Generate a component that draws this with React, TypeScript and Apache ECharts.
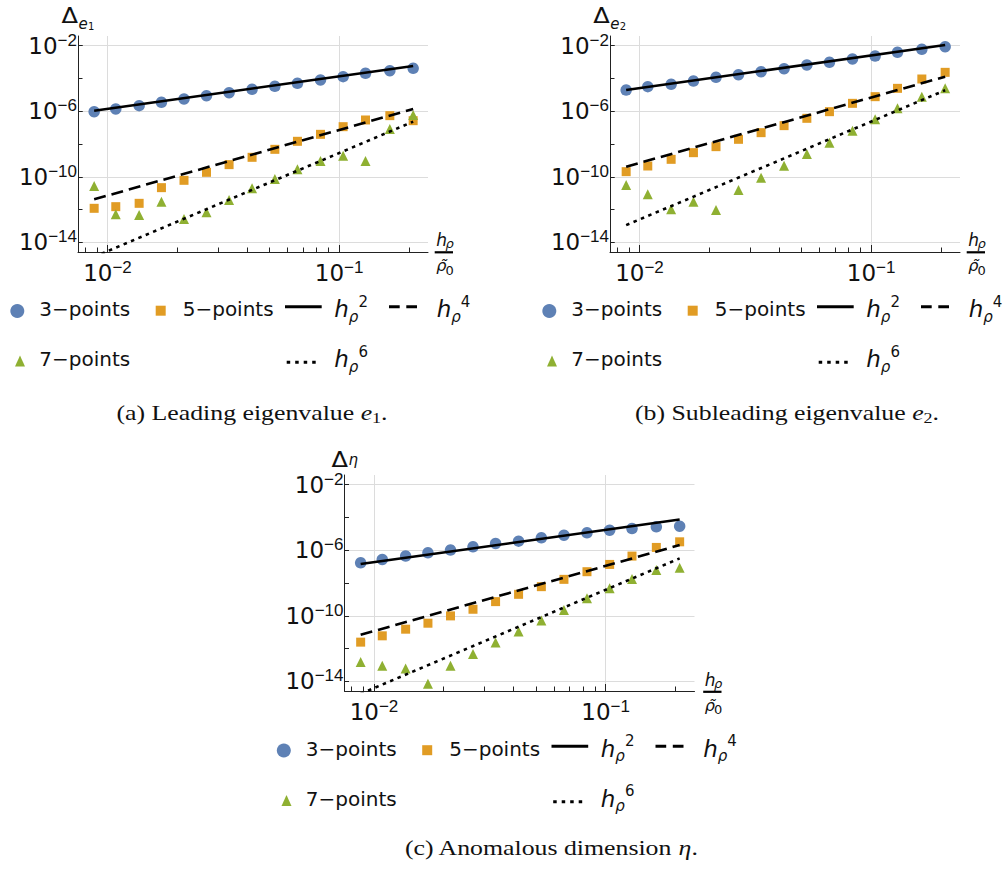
import React, { useEffect, useRef } from "react";
import * as echarts from "echarts";

// step sizes h_rho / rho~_0 (same abscissae in all panels)
const hValues = [0.00876, 0.01086, 0.0137, 0.0171, 0.0214, 0.02676, 0.0335, 0.0421, 0.0528, 0.0661, 0.0831, 0.1041, 0.13, 0.1656, 0.2088];
const fitRange = [0.00876, 0.2088];

// (a) leading eigenvalue e1
const e1Points3 = [9.33e-7, 1.37e-6, 2.19e-6, 3.49e-6, 5.57e-6, 8.91e-6, 1.355e-5, 2.16e-5, 3.31e-5, 5.04e-5, 8.04e-5, 1.29e-4, 2.05e-4, 2.99e-4, 4.14e-4];
const e1Points5 = [1.19e-12, 1.5e-12, 2.4e-12, 2.17e-11, 6.08e-11, 1.87e-10, 5.5e-10, 1.54e-9, 4.73e-9, 1.46e-8, 3.89e-8, 1.14e-7, 2.92e-7, 5.37e-7, 2.65e-7];
const e1Points7 = [2.74e-11, 5.13e-13, 4.68e-13, 3.02e-12, 2.66e-13, 6.76e-13, 3.84e-12, 1.97e-11, 7.33e-11, 2.85e-10, 9.18e-10, 1.95e-9, 9.18e-10, 8.24e-8, 5.89e-7];
const e1FitH2 = [1.08e-6, 5.75e-4];
const e1FitH4 = [4.21e-12, 1.37e-6];
const e1FitH6 = [1.3e-15, 2.31e-7];

// (b) subleading eigenvalue e2
const e2Points3 = [1.97e-5, 3.16e-5, 4.38e-5, 6.98e-5, 1.17e-4, 1.7e-4, 2.59e-4, 3.95e-4, 6.62e-4, 9.62e-4, 1.54e-3, 2.34e-3, 3.93e-3, 5.98e-3, 8.69e-3];
const e2Points5 = [2.05e-10, 4.55e-10, 1.16e-9, 2.96e-9, 6.89e-9, 1.93e-8, 4.92e-8, 1.32e-7, 3.69e-7, 9.4e-7, 3.03e-6, 7.73e-6, 2.49e-5, 9.25e-5, 2.36e-4];
const e2Points7 = [3.16e-11, 8.51e-12, 1.04e-12, 3.03e-12, 9.42e-13, 1.56e-11, 8.83e-11, 4.76e-10, 2.45e-9, 1.21e-8, 6.52e-8, 3.21e-7, 1.5e-6, 7.73e-6, 2.49e-5];
const e2FitH2 = [1.97e-5, 1.1e-2];
const e2FitH4 = [4.14e-10, 1.29e-4];
const e2FitH6 = [1.12e-13, 1.9e-5];

// (c) anomalous dimension eta
const etaPoints3 = [1.72e-7, 2.75e-7, 4.39e-7, 6.98e-7, 1.02e-6, 1.62e-6, 2.58e-6, 3.58e-6, 5.71e-6, 8.3e-6, 1.15e-5, 1.67e-5, 2.11e-5, 2.67e-5, 2.92e-5];
const etaPoints5 = [2.46e-12, 5.98e-12, 1.52e-11, 3.52e-11, 9.84e-11, 2.5e-10, 7.31e-10, 2.04e-9, 5.98e-9, 1.67e-8, 4.89e-8, 1.36e-7, 4.39e-7, 1.48e-6, 3.26e-6];
const etaPoints7 = [1.5e-13, 8.95e-14, 6.17e-14, 7.19e-15, 8.95e-14, 4.58e-13, 2.35e-12, 1.1e-11, 5.12e-11, 2.28e-10, 1.17e-9, 4.73e-9, 1.75e-8, 6.17e-8, 8.55e-8];
const etaFitH2 = [1.43e-7, 7.45e-5];
const etaFitH4 = [6.87e-12, 2.05e-6];
const etaFitH6 = [1.74e-15, 3.16e-7];

// ticks
const xMajorTicks = [0.01, 0.1];
const xMinorTicks = [0.008, 0.009, 0.02, 0.03, 0.04, 0.05, 0.06, 0.07, 0.08, 0.09, 0.2];
const yLabelTicks = [1e-14, 1e-10, 1e-6, 1e-2];
const yMinorTicks = [1e-14, 1e-12, 1e-10, 1e-8, 1e-6, 1e-4, 1e-2];

const legendNames = ["3\u2212points", "5\u2212points", "7\u2212points"];
const captions = [
  { lead: "(a) Leading eigenvalue ", sym: "e", sub: "1" },
  { lead: "(b) Subleading eigenvalue ", sym: "e", sub: "2" },
  { lead: "(c) Anomalous dimension ", sym: "\u03b7", sub: "" },
];

const X_MIN = 0.00746;
const X_MAX = 0.242;
const Y_MIN = 2.57e-15;
const Y_MAX = 0.0389;

const BLUE = "#5E81B5";
const ORANGE = "#E19C24";
const GREEN = "#8FB032";
const INK = "#111111";
const SANS = "DejaVu Sans";
const SERIF = "Liberation Serif";

const panels = [
  {
    left: 78, top: 36, ox: 0, oy: 0, fx: 0, fy: 0,
    p3: e1Points3, p5: e1Points5, p7: e1Points7, f2: e1FitH2, f4: e1FitH4, f6: e1FitH6,
    nameSub: "e", nameSub2: "1", delta: [61.5, 16], capX: 252, capY: 413,
  },
  {
    left: 610, top: 36, ox: 532, oy: 0, fx: 532, fy: 0,
    p3: e2Points3, p5: e2Points5, p7: e2Points7, f2: e2FitH2, f4: e2FitH4, f6: e2FitH6,
    nameSub: "e", nameSub2: "2", delta: [593.3, 16], capX: 787, capY: 413,
  },
  {
    left: 344.5, top: 475, ox: 266.5, oy: 439.5, fx: 268.5, fy: 439.5,
    p3: etaPoints3, p5: etaPoints5, p7: etaPoints7, f2: etaFitH2, f4: etaFitH4, f6: etaFitH6,
    nameSub: "\u03b7", nameSub2: "", delta: [331.5, 459.3], capX: 551, capY: 848,
  },
];

function powLabel(v: number) {
  const e = Math.round(Math.log10(v));
  return `{b|10}{s|${e < 0 ? "\u2212" : ""}${Math.abs(e)}}`;
}

const tickRich = {
  b: { fontSize: 23, fontFamily: SANS, lineHeight: 28, color: INK },
  s: { fontSize: 17, fontFamily: "Liberation Sans", lineHeight: 19, verticalAlign: "top", color: INK },
};

function textEl(x: number, y: number, text: string, opts: any = {}) {
  const { scaleX = 1, align = "left", rich, fontSize = 18, fontFamily = SANS, fontStyle = "normal" } = opts;
  return {
    type: "text",
    x,
    y,
    scaleX,
    silent: true,
    style: {
      text,
      fontSize,
      fontFamily,
      fontStyle,
      fill: INK,
      align,
      textAlign: align,
      verticalAlign: "middle",
      textVerticalAlign: "middle",
      rich,
    },
  };
}

const hRich = () => ({
  h: { fontSize: 23, fontStyle: "italic", fontFamily: SANS, lineHeight: 30, fill: INK },
  sub: { fontSize: 15, fontStyle: "italic", fontFamily: SANS, lineHeight: 15, verticalAlign: "bottom", fill: INK },
  sup: { fontSize: 15, fontFamily: SANS, lineHeight: 15, verticalAlign: "top", fill: INK },
});

function buildGraphics() {
  const els: any[] = [];
  panels.forEach((p, i) => {
    const ox = p.ox;
    const oy = p.oy;
    // legend row 1
    els.push({ type: "circle", silent: true, shape: { cx: 17.3 + ox, cy: 311 + oy, r: 7 }, style: { fill: BLUE } });
    els.push(textEl(39.3 + ox, 309.2 + oy, legendNames[0], { fontSize: 20 }));
    els.push({ type: "rect", silent: true, shape: { x: 155.7 + ox, y: 305.7 + oy, width: 10, height: 10 }, style: { fill: ORANGE } });
    els.push(textEl(182.7 + ox, 309.2 + oy, legendNames[1], { fontSize: 20 }));
    els.push({ type: "line", silent: true, shape: { x1: 285 + ox, y1: 306.7 + oy, x2: 321.7 + ox, y2: 306.7 + oy }, style: { stroke: "#000", lineWidth: 3 } });
    els.push(textEl(334.3 + ox, 309 + oy, "{h|h}{sub|\u03c1}{sup|2}", { rich: hRich() }));
    els.push({ type: "line", silent: true, shape: { x1: 389 + ox, y1: 306.7 + oy, x2: 417 + ox, y2: 306.7 + oy }, style: { stroke: "#000", lineWidth: 3, lineDash: [10.7, 6.6] } });
    els.push(textEl(436.7 + ox, 309 + oy, "{h|h}{sub|\u03c1}{sup|4}", { rich: hRich() }));
    // legend row 2
    els.push({ type: "polygon", silent: true, shape: { points: [[15 + ox, 366.5 + oy], [25 + ox, 366.5 + oy], [20 + ox, 355.5 + oy]] }, style: { fill: GREEN } });
    els.push(textEl(39.3 + ox, 359.3 + oy, legendNames[2], { fontSize: 20 }));
    els.push({ type: "line", silent: true, shape: { x1: 286.7 + ox, y1: 362.3 + oy, x2: 318.3 + ox, y2: 362.3 + oy }, style: { stroke: "#000", lineWidth: 3, lineDash: [3.5, 5] } });
    els.push(textEl(334.3 + ox, 359 + oy, "{h|h}{sub|\u03c1}{sup|6}", { rich: hRich() }));

    // caption
    const c = captions[i];
    const capText = c.sub ? `{r|${c.lead}}{i|${c.sym}}{s|${c.sub}}{r|.}` : `{r|${c.lead}}{i|${c.sym}}{r|.}`;
    els.push(textEl(p.capX, p.capY, capText, {
      align: "center",
      scaleX: 1.2,
      rich: {
        r: { fontSize: 21.5, fontFamily: SERIF, lineHeight: 26, fill: INK },
        i: { fontSize: 21.5, fontFamily: SERIF, fontStyle: "italic", lineHeight: 26, fill: INK },
        s: { fontSize: 15, fontFamily: SERIF, lineHeight: 15, verticalAlign: "bottom", fill: INK },
      },
    }));

    // y-axis name Delta_x
    const [dx, dy] = p.delta;
    els.push(textEl(dx, dy, "\u0394", { fontSize: 21, scaleX: 1.15 }));
    if (p.nameSub2) {
      els.push(textEl(dx + 17, dy + 8, p.nameSub, { fontSize: 15, fontStyle: "italic" }));
      els.push(textEl(dx + 26.5, dy + 10.5, p.nameSub2, { fontSize: 10 }));
    } else {
      els.push(textEl(dx + 17, dy + 0.7, p.nameSub, { fontSize: 15, fontStyle: "italic" }));
    }

    // x-axis name: h_rho / rho~_0
    const fx = p.fx;
    const fy = p.fy;
    els.push(textEl(436.3 + fx, 240 + fy, "h", { fontSize: 17, fontStyle: "italic" }));
    els.push(textEl(445.5 + fx, 243.6 + fy, "\u03c1", { fontSize: 13, fontStyle: "italic" }));
    els.push({ type: "line", silent: true, shape: { x1: 434.7 + fx, y1: 252.3 + fy, x2: 453 + fx, y2: 252.3 + fy }, style: { stroke: "#000", lineWidth: 2.2 } });
    els.push(textEl(436.3 + fx, 265.6 + fy, "\u03c1\u0303", { fontSize: 16, fontStyle: "italic" }));
    els.push(textEl(445.5 + fx, 270 + fy, "0", { fontSize: 13 }));
  });
  return els;
}

function buildOption() {
  const grid: any[] = [];
  const xAxis: any[] = [];
  const yAxis: any[] = [];
  const series: any[] = [];
  panels.forEach((p, i) => {
    grid.push({ left: p.left, top: p.top, width: 350, height: 216, containLabel: false, outerBoundsMode: "none", show: false });
    const axisColor = "#222";
    xAxis.push({
      type: "log", logBase: 10, gridIndex: i, position: "bottom", min: X_MIN, max: X_MAX,
      axisLine: { show: true, onZero: false, lineStyle: { color: axisColor, width: 1 } },
      axisTick: { show: true, inside: true, length: 7, customValues: xMajorTicks, lineStyle: { color: axisColor, width: 1 } },
      axisLabel: { show: true, customValues: xMajorTicks, formatter: powLabel, margin: 7, rich: tickRich },
      splitLine: { show: true, lineStyle: { color: "#dcdcdc", width: 1 } },
      minorTick: { show: false }, minorSplitLine: { show: false },
    });
    xAxis.push({
      type: "log", logBase: 10, gridIndex: i, position: "bottom", min: X_MIN, max: X_MAX,
      axisLine: { show: false, onZero: false },
      axisTick: { show: true, inside: true, length: 4.5, customValues: xMinorTicks, lineStyle: { color: axisColor, width: 1 } },
      axisLabel: { show: false },
      splitLine: { show: false },
    });
    yAxis.push({
      type: "log", logBase: 10, gridIndex: i, position: "left", min: Y_MIN, max: Y_MAX,
      axisLine: { show: true, onZero: false, lineStyle: { color: axisColor, width: 1 } },
      axisTick: { show: true, inside: true, length: 4.5, customValues: yLabelTicks, lineStyle: { color: axisColor, width: 1 } },
      axisLabel: { show: true, customValues: yLabelTicks, formatter: powLabel, margin: 1, rich: tickRich },
      splitLine: { show: true, lineStyle: { color: "#dcdcdc", width: 1 } },
      minorTick: { show: false }, minorSplitLine: { show: false },
    });
    yAxis.push({
      type: "log", logBase: 10, gridIndex: i, position: "left", min: Y_MIN, max: Y_MAX,
      axisLine: { show: false, onZero: false },
      axisTick: { show: true, inside: true, length: 4.5, customValues: yMinorTicks, lineStyle: { color: axisColor, width: 1 } },
      axisLabel: { show: false },
      splitLine: { show: false },
    });
    const xi = 2 * i;
    const yi = 2 * i;
    const scatter = (name: string, vals: number[], symbol: string, size: number, color: string) => ({
      name, type: "scatter", xAxisIndex: xi, yAxisIndex: yi, symbol, symbolSize: size,
      itemStyle: { color, opacity: 1 }, silent: true, z: 2,
      data: hValues.map((x, k) => [x, vals[k]]),
    });
    series.push(scatter(legendNames[0], p.p3, "circle", 11.5, BLUE));
    series.push(scatter(legendNames[1], p.p5, "rect", 9, ORANGE));
    series.push(scatter(legendNames[2], p.p7, "triangle", 10, GREEN));
    const fit = (name: string, vals: number[], type: any) => ({
      name, type: "line", xAxisIndex: xi, yAxisIndex: yi, symbol: "none", showSymbol: false, silent: true, clip: true, z: 3,
      lineStyle: { color: "#000", width: 2.6, type },
      data: fitRange.map((x, k) => [x, vals[k]]),
    });
    series.push(fit("h2", p.f2, "solid"));
    series.push(fit("h4", p.f4, [12, 6]));
    series.push(fit("h6", p.f6, [3.5, 4.5]));
  });
  return {
    animation: false,
    backgroundColor: "#ffffff",
    grid,
    xAxis,
    yAxis,
    series,
    graphic: { elements: buildGraphics() },
  };
}

export default function App() {
  const ref = useRef<HTMLDivElement>(null);
  useEffect(() => {
    if (!ref.current) return;
    const chart = echarts.init(ref.current, undefined, { renderer: "svg" });
    chart.setOption(buildOption() as any);
    return () => chart.dispose();
  }, []);
  return (
    <div
      ref={ref}
      style={{ position: "fixed", left: 0, top: 0, width: 1006, height: 873, background: "#fff" }}
    />
  );
}
